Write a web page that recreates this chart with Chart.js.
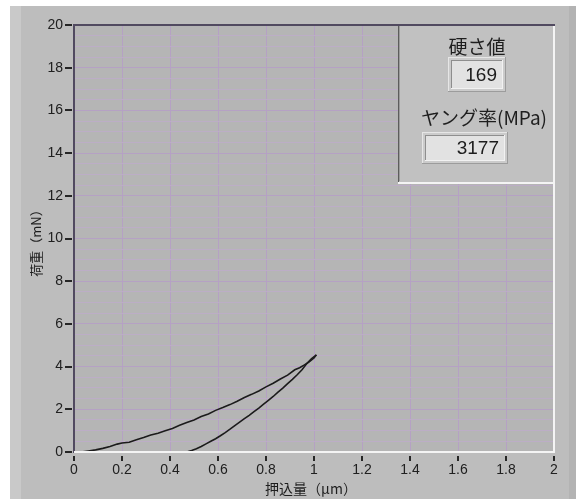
<!DOCTYPE html>
<html>
<head>
<meta charset="utf-8">
<script src="https://cdn.jsdelivr.net/npm/chart.js@4/dist/chart.umd.min.js"></script>
<style>
  html, body { margin: 0; padding: 0; background: #bdbdbd; }
  #wrap { width: 576px; height: 499px; }
</style>
</head>
<body>
<div id="wrap"><canvas id="c" width="576" height="499"></canvas></div>
<script>
// Axis ticks
const xTicks = [0, 0.2, 0.4, 0.6, 0.8, 1, 1.2, 1.4, 1.6, 1.8, 2];
const yTicks = [0, 2, 4, 6, 8, 10, 12, 14, 16, 18, 20];
const yMinorStep = 0.5;

// Indentation depth (µm) and load (mN): loading branch
const loadX = [0.03, 0.06, 0.09, 0.12, 0.15, 0.18, 0.20, 0.23, 0.26, 0.29, 0.32, 0.35,
               0.38, 0.41, 0.44, 0.47, 0.50, 0.53, 0.56, 0.59, 0.62, 0.65, 0.68, 0.71,
               0.74, 0.77, 0.80, 0.83, 0.86, 0.89, 0.92, 0.94, 0.96, 0.98, 1.00, 1.01];
const loadY = [0.00, 0.05, 0.10, 0.17, 0.26, 0.37, 0.42, 0.46, 0.57, 0.68, 0.80, 0.88,
               0.99, 1.10, 1.25, 1.38, 1.50, 1.66, 1.78, 1.95, 2.08, 2.22, 2.38, 2.55,
               2.70, 2.86, 3.05, 3.22, 3.42, 3.60, 3.85, 3.95, 4.08, 4.22, 4.40, 4.55];

// Unloading branch
const unloadX = [1.01, 0.99, 0.97, 0.95, 0.93, 0.91, 0.89, 0.87, 0.85, 0.83, 0.81, 0.79,
                 0.77, 0.75, 0.73, 0.71, 0.69, 0.67, 0.65, 0.63, 0.61, 0.59, 0.57, 0.55,
                 0.53, 0.51, 0.49, 0.47];
const unloadY = [4.55, 4.38, 4.14, 3.85, 3.62, 3.40, 3.20, 2.99, 2.80, 2.60, 2.42, 2.24,
                 2.06, 1.89, 1.72, 1.56, 1.40, 1.24, 1.07, 0.91, 0.76, 0.62, 0.50, 0.38,
                 0.26, 0.15, 0.07, 0.00];

// Indicator panel
const hardnessLabel = '硬さ値';
const hardnessValue = '169';
const modulusLabel = 'ヤング率(MPa)';
const modulusValue = '3177';

const xTitle = '押込量（μm）';
const yTitle = '荷重（mN）';

const CJK = '"Noto Sans CJK JP", "Noto Sans", sans-serif';
const LAT = '"Liberation Sans", Arial, sans-serif';
const GRID_MAJOR = '#b5a1c4';
const GRID_MINOR = '#bcadc6';
const FRAME_DARK = '#514a60';

const toPoints = (xs, ys) => xs.map((x, i) => ({ x: x, y: ys[i] }));

function bevel(ctx, x, y, w, h, light, dark) {
  ctx.fillStyle = light;
  ctx.fillRect(x, y, w, 1);
  ctx.fillRect(x, y, 1, h);
  ctx.fillStyle = dark;
  ctx.fillRect(x, y + h - 1, w, 1);
  ctx.fillRect(x + w - 1, y, 1, h);
}

function field(ctx, x, y, w, h, text) {
  ctx.fillStyle = '#cbcbcb';
  ctx.fillRect(x, y, w, h);
  bevel(ctx, x, y, w, h, '#e6e6e6', '#9c9c9c');
  ctx.fillStyle = '#e2e2e2';
  ctx.fillRect(x + 3, y + 3, w - 6, h - 6);
  bevel(ctx, x + 3, y + 3, w - 6, h - 6, '#8e8e8e', '#f2f2f2');
  ctx.fillStyle = '#1c1c1c';
  ctx.font = '19px ' + LAT;
  ctx.textAlign = 'right';
  ctx.textBaseline = 'middle';
  ctx.fillText(text, x + w - 9, y + h / 2 + 1);
}

const panelPlugin = {
  id: 'panel',
  beforeDraw(chart) {
    const ctx = chart.ctx;
    const W = chart.width, H = chart.height;
    const a = chart.chartArea;
    ctx.save();
    ctx.fillStyle = '#bdbdbd';
    ctx.fillRect(0, 0, W, H);
    ctx.fillStyle = '#c9c9c9';
    ctx.fillRect(10, 6, 11, H);
    ctx.fillStyle = '#b3b3b3';
    ctx.fillRect(569, 0, W - 569, H);
    ctx.fillStyle = '#ffffff';
    ctx.fillRect(0, 0, 10, H);
    ctx.fillRect(0, 0, W, 6);
    ctx.fillStyle = '#b5b5b5';
    ctx.fillRect(a.left, a.top, a.right - a.left, a.bottom - a.top);
    ctx.restore();
  },
  afterDraw(chart) {
    const ctx = chart.ctx;
    const a = chart.chartArea;
    const xs = chart.scales.x, ys = chart.scales.y;
    ctx.save();

    // plot frame: dark top/left, light bottom/right
    ctx.fillStyle = FRAME_DARK;
    ctx.fillRect(a.left - 1, a.top - 1, a.right - a.left + 2, 2);
    ctx.fillRect(a.left - 1, a.top - 1, 2, a.bottom - a.top + 2);
    ctx.fillStyle = '#f4f4f4';
    ctx.fillRect(a.left, a.bottom - 1, a.right - a.left + 1, 2);
    ctx.fillRect(a.right - 1, a.top + 1, 2, a.bottom - a.top);

    // tick marks
    ctx.fillStyle = '#262626';
    xTicks.forEach(v => {
      const px = Math.round(xs.getPixelForValue(v));
      ctx.fillRect(px - 1, a.bottom + 4, 2, 5);
    });
    yTicks.forEach(v => {
      const py = Math.round(ys.getPixelForValue(v));
      ctx.fillRect(a.left - 9, py - 1, 7, 2);
    });

    // axis titles
    ctx.fillStyle = '#1e1e1e';
    ctx.textAlign = 'center';
    ctx.textBaseline = 'middle';
    ctx.font = '14px ' + CJK;
    ctx.fillText(xTitle, 311, 489);
    ctx.save();
    ctx.translate(36, 240);
    ctx.rotate(-Math.PI / 2);
    ctx.font = '13px ' + CJK;
    ctx.fillText(yTitle, 0, 0);
    ctx.restore();

    // indicator box in the upper right corner of the plot
    const bx = 398, by = a.top + 1, bw = a.right - 1 - bx, bh = 182 - by;
    ctx.fillStyle = '#c1c1c1';
    ctx.fillRect(bx, by, bw, bh);
    ctx.fillStyle = '#5c5c5c';
    ctx.fillRect(bx, by, 1, bh);
    ctx.fillStyle = '#9a9a9a';
    ctx.fillRect(bx + 1, by, 1, bh - 1);
    ctx.fillStyle = '#f4f4f4';
    ctx.fillRect(bx, by + bh, bw + 1, 2);

    ctx.fillStyle = '#1e1e1e';
    ctx.font = '19px ' + CJK;
    ctx.textAlign = 'center';
    ctx.textBaseline = 'middle';
    ctx.fillText(hardnessLabel, 477, 47);
    ctx.fillText(modulusLabel, 484, 118);

    field(ctx, 448, 57, 58, 35, hardnessValue);
    field(ctx, 422, 132, 86, 32, modulusValue);

    ctx.restore();
  }
};

new Chart(document.getElementById('c'), {
  type: 'scatter',
  data: {
    datasets: [
      { label: 'loading', data: toPoints(loadX, loadY) },
      { label: 'unloading', data: toPoints(unloadX, unloadY) }
    ]
  },
  options: {
    responsive: false,
    animation: false,
    devicePixelRatio: 1,
    showLine: true,
    layout: { padding: { left: 0, top: 25, right: 22, bottom: 0 } },
    elements: {
      point: { radius: 0, hoverRadius: 0 },
      line: { borderColor: '#1b1b1b', borderWidth: 1.6, tension: 0 }
    },
    plugins: { legend: { display: false }, tooltip: { enabled: false } },
    scales: {
      x: {
        type: 'linear', min: 0, max: 2,
        afterBuildTicks: s => { s.ticks = xTicks.map(v => ({ value: v })); },
        afterFit: s => { s.height = 47; },
        border: { display: false },
        grid: { color: GRID_MAJOR, lineWidth: 1, drawTicks: false },
        ticks: {
          padding: 10, color: '#202020', maxRotation: 0, autoSkip: false,
          font: { family: LAT, size: 14 },
          callback: v => String(v)
        }
      },
      y: {
        type: 'linear', min: 0, max: 20,
        afterBuildTicks: s => {
          const t = [];
          for (let v = 0; v <= 20 + 1e-9; v += yMinorStep) t.push({ value: Math.round(v * 2) / 2 });
          s.ticks = t;
        },
        afterFit: s => { s.width = 74; },
        border: { display: false },
        grid: {
          color: c => (c.tick && yTicks.includes(c.tick.value)) ? GRID_MAJOR : GRID_MINOR,
          lineWidth: 1, drawTicks: false
        },
        ticks: {
          padding: 11, color: '#202020', autoSkip: false,
          font: { family: LAT, size: 14 },
          callback: v => yTicks.includes(v) ? String(v) : ''
        }
      }
    }
  },
  plugins: [panelPlugin]
});
</script>
</body>
</html>
